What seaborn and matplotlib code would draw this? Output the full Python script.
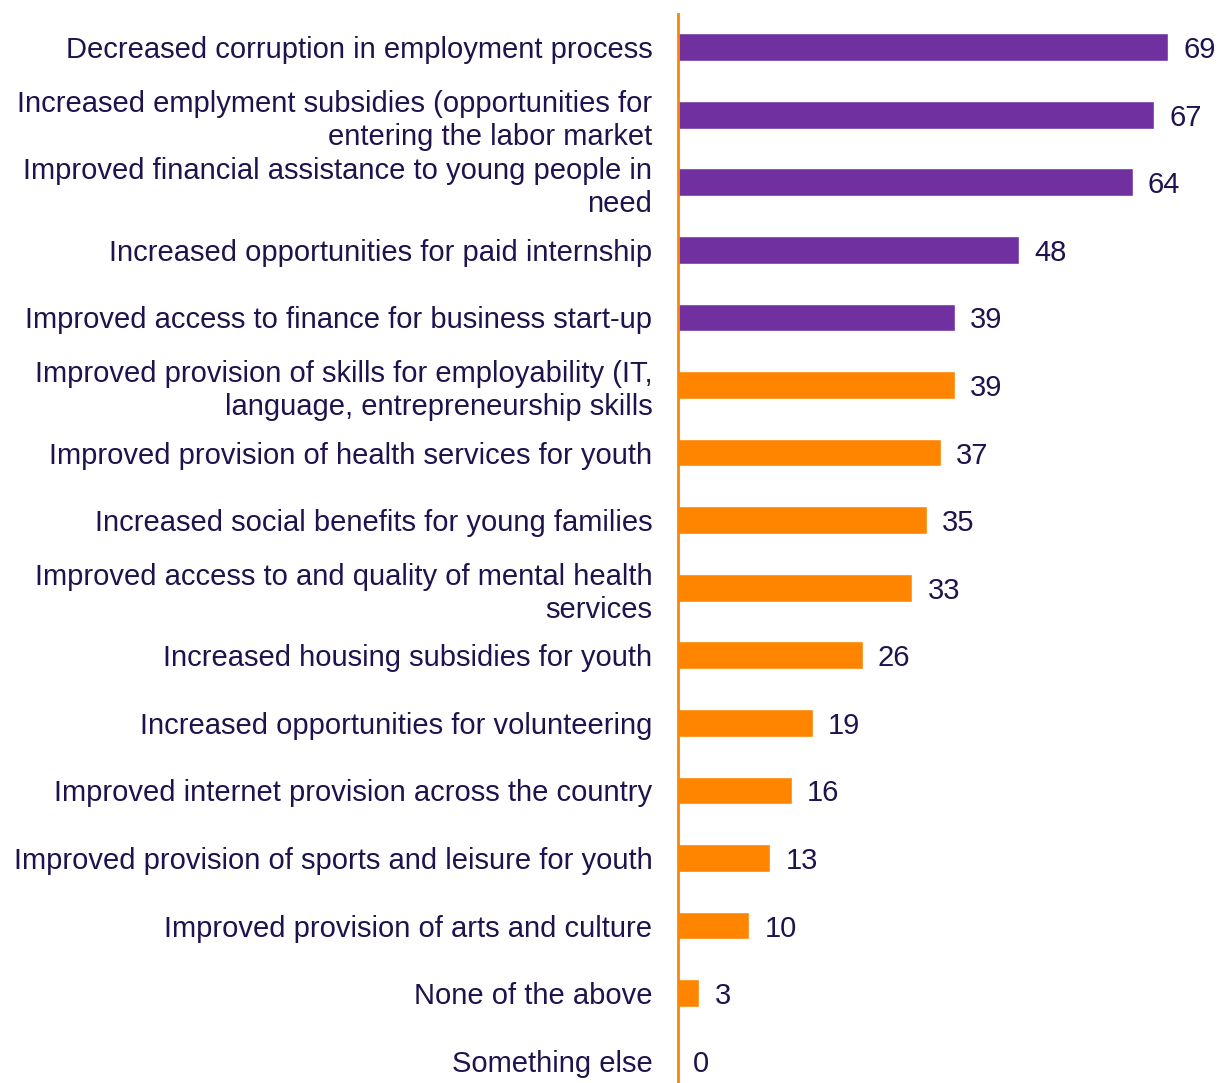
import matplotlib
matplotlib.use("Agg")
import matplotlib.pyplot as plt
import seaborn as sns
import pandas as pd

categories = [
    "Decreased corruption in employment process",
    "Increased emplyment subsidies (opportunities for\nentering the labor market",
    "Improved financial assistance to young people in\nneed",
    "Increased opportunities for paid internship",
    "Improved access to finance for business start-up",
    "Improved provision of skills for employability (IT,\nlanguage, entrepreneurship skills",
    "Improved provision of health services for youth",
    "Increased social benefits for young families",
    "Improved access to and quality of mental health\nservices",
    "Increased housing subsidies for youth",
    "Increased opportunities for volunteering",
    "Improved internet provision across the country",
    "Improved provision of sports and leisure for youth",
    "Improved provision of arts and culture",
    "None of the above",
    "Something else",
]
values = [69, 67, 64, 48, 39, 39, 37, 35, 33, 26, 19, 16, 13, 10, 3, 0]
groups = ["top"] * 5 + ["rest"] * 11

PURPLE = "#7030A0"
ORANGE = "#FF8400"
TEXT = "#20124D"
FS = 21

df = pd.DataFrame({"category": categories, "value": values, "group": groups})

sns.set_style("white")
plt.rcParams["font.family"] = ["Liberation Sans", "DejaVu Sans"]

fig = plt.figure(figsize=(12.2, 10.83), dpi=100)
ax = fig.add_axes([678 / 1220, 0.0, 1 - 678 / 1220, 1069 / 1083])

sns.barplot(data=df, x="value", y="category", hue="group",
            palette={"top": PURPLE, "rest": ORANGE}, dodge=False,
            width=0.41, legend=False, ax=ax, saturation=1)

for cont in ax.containers:
    anns = ax.bar_label(cont, labels=[f"{v:g}" for v in cont.datavalues],
                        padding=11, fontsize=FS, color=TEXT)
    for a in anns:
        a.set_verticalalignment("center_baseline")

ax.set_xlim(0, 76.3)
ax.set_ylim(15.33, -0.49)
ax.set_xlabel("")
ax.set_ylabel("")
ax.set_xticks([])
ax.tick_params(axis="y", length=0, pad=18.5, labelsize=FS, labelcolor=TEXT)
for lbl in ax.get_yticklabels():
    lbl.set_horizontalalignment("right")
    lbl.set_multialignment("right")
    lbl.set_linespacing(1.22)

for s in ["top", "right", "bottom"]:
    ax.spines[s].set_visible(False)
ax.spines["left"].set_color(ORANGE)
ax.spines["left"].set_linewidth(2)

fig.savefig("out.png", dpi=100)
